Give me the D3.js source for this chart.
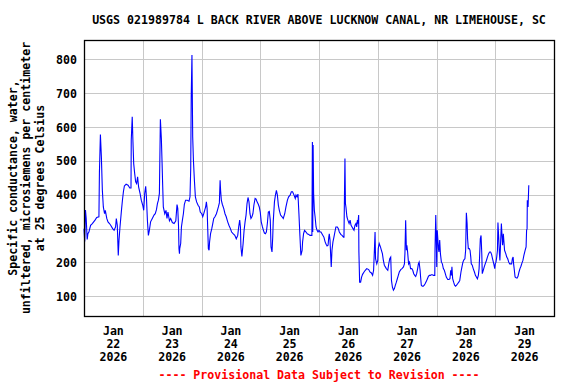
<!DOCTYPE html>
<html><head><meta charset="utf-8">
<script src="https://cdn.jsdelivr.net/npm/d3@7"></script>
<style>
html,body{margin:0;padding:0;background:#fff;}
text{font-family:"DejaVu Sans Mono","Liberation Mono",monospace;font-weight:bold;}
</style></head>
<body><svg id="c" width="576" height="384"></svg>
<script>
const title = "USGS 021989784 L BACK RIVER ABOVE LUCKNOW CANAL, NR LIMEHOUSE, SC";
const yLabelLines = ["Specific conductance, water,", "unfiltered, microsiemens per centimeter", "at 25 degrees Celsius"];
const footnote = "---- Provisional Data Subject to Revision ----";
const yTicks = [100, 200, 300, 400, 500, 600, 700, 800];
const dayLabels = [["Jan","22","2026"],["Jan","23","2026"],["Jan","24","2026"],["Jan","25","2026"],["Jan","26","2026"],["Jan","27","2026"],["Jan","28","2026"],["Jan","29","2026"]];
// hours since 2026-01-22 00:00
const hours = [0.0,0.3,0.6,0.9,1.3,1.6,2.0,2.7,3.4,4.5,5.2,6.1,6.3,6.7,7.1,7.5,7.9,8.4,8.7,9.3,9.8,10.4,10.9,11.7,12.3,12.9,13.2,13.6,14.0,14.3,14.7,15.3,15.7,16.1,16.5,17.2,18.0,18.7,19.2,19.3,19.7,20.0,20.3,20.7,21.1,21.5,21.9,22.3,22.9,23.4,24.0,24.4,24.8,25.2,25.5,25.9,26.3,26.7,27.2,27.9,28.6,29.1,29.6,30.0,30.4,30.8,31.2,31.6,31.9,32.1,32.4,33.0,33.5,33.9,34.3,34.9,35.4,36.1,36.8,37.5,38.0,38.3,38.6,38.8,39.0,39.1,39.5,39.8,40.2,40.6,41.0,41.5,42.2,42.9,43.3,43.6,43.8,44.1,44.4,44.7,45.1,45.5,46.0,46.6,47.1,47.5,48.1,48.5,48.9,49.3,49.7,50.0,50.3,50.5,50.8,51.1,51.3,51.7,52.2,52.6,53.0,53.5,54.1,54.5,54.9,55.3,55.6,55.8,56.1,56.5,57.1,57.6,58.1,58.7,59.2,59.8,60.3,60.9,61.6,62.2,62.8,63.2,63.6,63.9,64.1,64.5,65.0,65.4,65.8,66.2,66.6,67.0,67.4,67.8,68.2,68.6,69.0,69.4,69.9,70.3,70.7,71.2,71.6,72.0,72.4,72.9,73.3,73.7,74.1,74.5,74.9,75.3,75.7,76.1,76.4,76.8,77.1,77.3,77.8,78.2,78.6,79.0,79.4,79.8,80.3,80.9,81.4,82.0,82.5,83.1,83.6,84.2,84.7,85.2,85.8,86.3,86.6,87.0,87.4,87.8,88.2,88.6,89.1,89.3,89.7,90.1,90.7,91.2,91.8,92.3,92.7,93.1,93.3,93.45,93.6,93.8,94.1,94.4,94.8,95.2,95.6,96.0,96.4,96.8,97.2,97.6,98.0,98.5,98.9,99.3,99.7,100.0,100.2,100.5,100.8,101.0,101.3,101.7,102.1,102.5,102.9,103.5,103.9,104.3,104.9,105.4,106.0,106.2,106.4,106.6,106.8,107.0,107.4,107.8,108.3,108.7,109.1,109.5,109.9,110.3,110.7,111.1,111.4,111.7,111.9,112.2,112.3,112.6,113.0,113.4,113.8,114.4,114.9,115.5,116.3,116.8,117.4,117.9,118.3,118.6,118.9,119.1,119.6,120.0,120.2,120.6,121.1,121.5,121.9,122.3,122.7,123.1,123.5,124.1,124.5,124.9,125.3,125.6,126.0,126.4,126.8,127.2,127.6,128.0,128.4,128.8,129.4,129.9,130.5,130.9,131.1,131.4,131.7,131.9,132.2,132.6,133.0,133.4,133.9,134.3,134.7,135.1,135.5,135.9,136.3,136.6,136.9,137.3,137.5,137.8,138.2,138.6,139.0,139.4,139.9,140.3,140.7,141.1,141.5,141.9,142.3,142.8,143.3,143.4,143.7,143.9,144.1,144.3,144.8,145.0,145.3,145.6,146.0,146.4,146.8,147.2,147.6,148.0,148.6,149.1,149.5,149.8,150.1,150.3,150.6,151.0,151.4,151.8,152.2,152.7,153.1,153.5,154.0,154.4,154.8,155.2,155.6,155.9,156.2,156.5,156.7,157.0,157.4,157.7,158.0,158.2,158.6,159.0,159.5,159.9,160.3,160.7,161.1,161.4,161.6,161.9,162.2,162.5,162.7,163.1,163.5,163.9,164.4,164.8,165.3,165.7,166.1,166.5,166.9,167.4,167.8,168.0,168.3,168.6,168.9,169.1,169.4,169.7,169.9,170.2,170.5,170.8,171.0,171.3,171.6,171.8,172.3,172.7,173.1,173.5,173.9,174.3,174.7,175.0,175.3,175.5,175.8,176.1,176.5,176.9,177.3,177.7,178.1,178.5,178.9,179.3,179.7,180.2,180.6,180.8,181.0,181.1,181.4,181.7];
const conductance = [300,262,355,330,268,285,290,310,315,325,333,335,466,578,512,413,364,344,354,330,320,315,310,300,295,305,330,310,221,266,305,354,384,409,426,431,428,420,420,561,630,556,492,463,438,433,453,423,404,384,369,354,404,425,394,325,280,295,320,330,340,344,356,374,384,404,623,566,492,438,364,344,354,330,349,323,330,318,315,323,371,360,310,241,226,241,256,305,325,344,372,384,384,381,394,478,690,813,571,502,443,394,379,369,364,349,344,335,344,354,364,379,359,310,241,236,261,285,300,315,330,335,344,354,364,376,443,413,384,372,359,344,335,320,310,300,290,285,280,270,280,305,325,305,246,218,256,295,320,340,374,392,379,344,330,335,344,369,389,387,379,372,364,349,320,305,295,287,285,290,315,349,351,325,246,231,275,320,379,399,413,399,369,354,340,335,330,344,364,384,394,399,409,409,399,389,399,394,402,344,280,221,236,261,285,295,290,285,283,280,280,280,556,290,547,404,354,335,305,295,290,295,290,290,285,280,275,261,254,249,251,275,285,266,216,187,236,261,275,290,305,305,300,290,283,280,275,275,394,507,374,364,335,325,315,325,310,305,300,295,310,315,305,325,315,340,231,142,142,157,165,172,177,182,179,172,169,162,177,231,290,211,196,206,241,256,246,236,226,206,192,187,182,177,196,211,216,147,127,118,123,133,142,152,162,172,179,182,187,196,226,325,236,251,231,196,201,182,182,177,167,162,159,167,182,196,201,177,157,133,130,130,133,138,145,152,159,162,162,164,164,162,162,241,340,275,187,295,241,231,266,226,201,196,182,177,167,157,150,150,152,177,162,187,152,142,133,130,133,138,142,147,172,187,201,208,211,236,347,315,270,241,241,236,216,196,192,182,172,162,157,152,162,182,216,270,280,226,167,177,187,196,206,216,226,231,231,224,211,196,182,196,201,216,236,318,275,226,206,261,315,275,251,285,256,236,226,216,211,201,196,196,196,211,216,196,177,157,155,154,159,172,182,189,198,206,221,236,246,295,300,384,364,428];

const W = 576, H = 384;
const m = {left: 84, right: 554, top: 40, bottom: 316};
const t0 = Date.UTC(2026, 0, 22);
const HOUR = 3600e3;
const data = hours.map((h, i) => ({t: new Date(t0 + h * HOUR), v: conductance[i]}));

const x = d3.scaleUtc().domain([new Date(t0), new Date(t0 + 192 * HOUR)]).range([m.left, m.right]);
const y = d3.scaleLinear().domain([42, 857]).range([m.bottom, m.top]);

const svg = d3.select("#c");
svg.append("rect").attr("width", W).attr("height", H).attr("fill", "#fff");

// gridlines
const g = svg.append("g");
g.selectAll("line.h").data(yTicks).join("line")
  .attr("x1", m.left).attr("x2", m.right)
  .attr("y1", d => Math.round(y(d)) + 0.5).attr("y2", d => Math.round(y(d)) + 0.5)
  .attr("stroke", "#c8c8c8").attr("stroke-width", 1);
const dayTicks = d3.range(1, 8).map(d => new Date(t0 + d * 24 * HOUR));
g.selectAll("line.v").data(dayTicks).join("line")
  .attr("x1", d => Math.round(x(d)) + 0.5).attr("x2", d => Math.round(x(d)) + 0.5)
  .attr("y1", m.top).attr("y2", m.bottom)
  .attr("stroke", "#c8c8c8").attr("stroke-width", 1);

// data line
const line = d3.line().x(d => x(d.t)).y(d => y(d.v));
svg.append("path").datum(data).attr("d", line)
  .attr("fill", "none").attr("stroke", "#0000ff").attr("stroke-width", 1.1)
  .attr("stroke-linejoin", "miter");

// frame
svg.append("rect").attr("x", m.left + 0.5).attr("y", m.top + 0.5)
  .attr("width", m.right - m.left).attr("height", m.bottom - m.top)
  .attr("fill", "none").attr("stroke", "#000").attr("stroke-width", 1.3);

const fs = "11.6px";
// y tick labels
svg.selectAll("text.yt").data(yTicks).join("text")
  .attr("x", 77).attr("y", d => y(d) + 4.5)
  .attr("text-anchor", "end").attr("font-size", fs).text(d => d);

// x labels at noon each day
const noon = dayLabels.map((d, i) => ({lab: d, t: new Date(t0 + (i * 24 + 12) * HOUR)}));
const xl = svg.selectAll("g.xl").data(noon).join("g")
  .attr("transform", d => `translate(${x(d.t)},0)`);
xl.each(function(d) {
  const s = d3.select(this);
  d.lab.forEach((l, k) => {
    s.append("text").attr("x", 0).attr("y", 334.5 + k * 13)
      .attr("text-anchor", "middle").attr("font-size", fs).text(l);
  });
});

// title
svg.append("text").attr("x", (m.left + m.right) / 2).attr("y", 23.5)
  .attr("text-anchor", "middle").attr("font-size", fs).text(title);

// y label
const cy = (m.top + m.bottom) / 2;
const ycols = [12.5, 26, 39.5];
yLabelLines.forEach((l, k) => {
  svg.append("text").attr("transform", `translate(${ycols[k] + 4},${cy}) rotate(-90)`)
    .attr("text-anchor", "middle").attr("font-size", fs).text(l);
});

// footnote
svg.append("text").attr("x", (m.left + m.right) / 2).attr("y", 378.5)
  .attr("text-anchor", "middle").attr("font-size", fs).attr("fill", "#ff0000").text(footnote);
</script></body></html>
